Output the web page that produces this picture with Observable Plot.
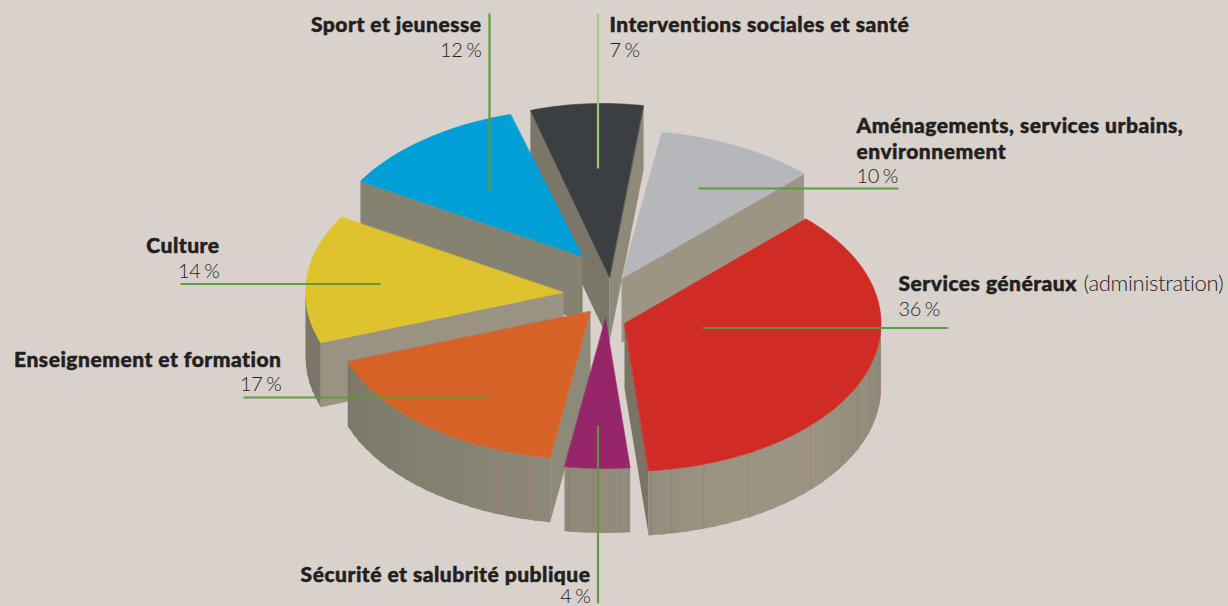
<!DOCTYPE html>
<html lang="fr">
<head>
<meta charset="utf-8">
<script src="https://cdn.jsdelivr.net/npm/d3@7"></script>
<script src="https://cdn.jsdelivr.net/npm/@observablehq/plot@0.6"></script>
<style>
html,body{margin:0;padding:0;background:#d9d1cb;overflow:hidden}
svg{display:block}
.bold text{letter-spacing:.5px}
.light text{word-spacing:-1.5px;letter-spacing:-.3px}
</style>
</head>
<body>
<script>
// ---- data ----
const categories = [
  "Services généraux",
  "Sécurité et salubrité publique",
  "Enseignement et formation",
  "Culture",
  "Sport et jeunesse",
  "Interventions sociales et santé",
  "Aménagements, services urbains, environnement"
];
const shares = [36, 4, 17, 14, 12, 7, 10];
const sliceColors = ["#d12b26", "#96256a", "#d66227", "#dfc32e", "#009fd8", "#3c3f42", "#b5b7bb"];

// ---- layout of the exploded pie ----
const RX = 258, RY = 148, DEPTH = 64.5;
const sliceGeometry = [
  {ax: 624, ay: 323, rx: 256.5},
  {ax: 605, ay: 318, rx: 262, ry: 150},
  {ax: 590, ay: 311},
  {ax: 563, ay: 292},
  {ax: 582, ay: 256},
  {ax: 609, ay: 277, rx: 260, ry: 174, shear: 0.039},
  {ax: 621, ay: 278}
];
const paintOrder = [5, 4, 6, 3, 2, 0, 1];
const facetAngles = [
  [84, 79.6, 72, 61, 43.5, 32, 24.5, 17, 5],
  [98, 92.7, 86.9],
  [124.8, 117, 110.4, 104, 99.2],
  [], [], [], []
];
const leaders = [
  {x1: 489, y1: 13, x2: 489, y2: 191, c: "#5a9a38"},
  {x1: 597.5, y1: 13, x2: 597.5, y2: 168, c: "#a4cf6e"},
  {x1: 698, y1: 188, x2: 898, y2: 188, c: "#5a9a38"},
  {x1: 702, y1: 327.5, x2: 948, y2: 327.5, c: "#5a9a38"},
  {x1: 180, y1: 283.5, x2: 380, y2: 283.5, c: "#5a9a38"},
  {x1: 243, y1: 397, x2: 489, y2: 397, c: "#5a9a38"},
  {x1: 597.5, y1: 425, x2: 597.5, y2: 603, c: "#5a9a38"}
];
const boldEnd = [
  {t: categories[4], x: 481, y: 32},
  {t: categories[3], x: 219, y: 253},
  {t: categories[2], x: 281, y: 367},
  {t: categories[1], x: 590, y: 582}
];
const boldStart = [
  {t: categories[5], x: 609, y: 32},
  {t: "Aménagements, services urbains,", x: 856, y: 133},
  {t: "environnement", x: 856, y: 159},
  {t: categories[0], x: 898, y: 291}
];
const percentEnd = [
  {t: shares[4] + " %", x: 481, y: 58},
  {t: shares[3] + " %", x: 219, y: 279},
  {t: shares[2] + " %", x: 281, y: 392},
  {t: shares[1] + " %", x: 590, y: 604}
];
const percentStart = [
  {t: shares[5] + " %", x: 609, y: 58},
  {t: shares[6] + " %", x: 856, y: 184},
  {t: shares[0] + " %", x: 898, y: 317}
];
const noteStart = [{t: "(administration)", x: 1083, y: 291}];

// ---- geometry derived from the values ----
const deg = Math.PI / 180;
const arcs = d3.pie().sort(null).startAngle(Math.PI / 4).endAngle(Math.PI / 4 + 2 * Math.PI)(shares);
const slices = shares.map((v, i) => {
  const g = sliceGeometry[i];
  return {
    i, color: sliceColors[i], ax: g.ax, ay: g.ay,
    rx: g.rx || RX, ry: g.ry || RY, shear: g.shear || 0,
    a0: arcs[i].startAngle / deg - 90, a1: arcs[i].endAngle / deg - 90
  };
});
const pt = (s, a, h = 0) => {
  const dy = s.ry * Math.sin(a * deg);
  return {x: s.ax + s.rx * Math.cos(a * deg) + s.shear * dy, y: s.ay + dy + h};
};
const apex = (s, h = 0) => ({x: s.ax, y: s.ay + h});
const norm = a => ((a % 360) + 360) % 360;
const shade = d3.scaleLinear()
  .domain([0, 45, 70, 85, 120, 165, 180])
  .range(["#8b8776", "#9c9584", "#9a9382", "#938c7d", "#868272", "#7a7668", "#777365"]);

const polys = [];
let pid = 0;
const addPoly = (pts, fill, sw) => {
  const id = pid++;
  pts.forEach(p => polys.push({x: p.x, y: p.y, id, fill, sw}));
};
const facetLines = [];
const STEP = 3;
for (const k of paintOrder) {
  const s = slices[k];
  // radial cut faces
  for (const [a, n] of [[s.a0, s.a0 - 90], [s.a1, s.a1 + 90]]) {
    const nn = norm(n);
    if (nn < 180) addPoly([apex(s), pt(s, a), pt(s, a, DEPTH), apex(s, DEPTH)], shade(nn), 0);
  }
  // outer wall, the part turned towards the viewer; strips overlap so no seam shows
  const lo = Math.max(s.a0, 0), hi = Math.min(s.a1, 180);
  if (hi > lo) {
    for (let a = lo; a < hi; a += STEP) {
      const b = Math.min(a + STEP + 1, hi);
      addPoly([pt(s, a), pt(s, b), pt(s, b, DEPTH), pt(s, a, DEPTH)], shade(a), 0);
    }
  }
  for (const f of facetAngles[k]) {
    const p = pt(s, f), q = pt(s, f, DEPTH);
    facetLines.push({x1: p.x, y1: p.y, x2: q.x, y2: q.y, c: s.color});
  }
  // top
  const top = [apex(s)];
  for (let a = s.a0; a < s.a1; a += 1) top.push(pt(s, a));
  top.push(pt(s, s.a1));
  addPoly(top, s.color, 0.6);
}

const labelStyle = {x: "x", y: "y", text: "t", lineAnchor: "middle", dy: -7.5, fontFamily: "Lato", fill: "#231f20"};
const boldStyle = {...labelStyle, fontWeight: 900, fontSize: 21, stroke: "#231f20", strokeWidth: 0.5, className: "bold"};
const lightStyle = {...labelStyle, fontWeight: 300, fontSize: 20, className: "light"};

const chart = Plot.plot({
  width: 1228, height: 606, margin: 0,
  style: {background: "#d9d1cb"},
  x: {domain: [0, 1228], range: [0, 1228], axis: null},
  y: {domain: [0, 606], range: [0, 606], axis: null},
  color: {type: "identity"},
  marks: [
    Plot.line(polys, {x: "x", y: "y", z: "id", fill: "fill", stroke: "fill", strokeWidth: "sw", curve: "linear-closed"}),
    Plot.link(facetLines, {x1: "x1", y1: "y1", x2: "x2", y2: "y2", stroke: "c", strokeOpacity: 0.16, strokeWidth: 1}),
    Plot.link(leaders, {x1: "x1", y1: "y1", x2: "x2", y2: "y2", stroke: "c", strokeWidth: 2.2, strokeOpacity: 0.95}),
    Plot.text(boldEnd, {...boldStyle, textAnchor: "end"}),
    Plot.text(boldStart, {...boldStyle, textAnchor: "start"}),
    Plot.text(percentEnd, {...lightStyle, textAnchor: "end"}),
    Plot.text(percentStart, {...lightStyle, textAnchor: "start"}),
    Plot.text(noteStart, {...lightStyle, fontSize: 22, textAnchor: "start"})
  ]
});
document.body.appendChild(chart);
</script>
</body>
</html>
